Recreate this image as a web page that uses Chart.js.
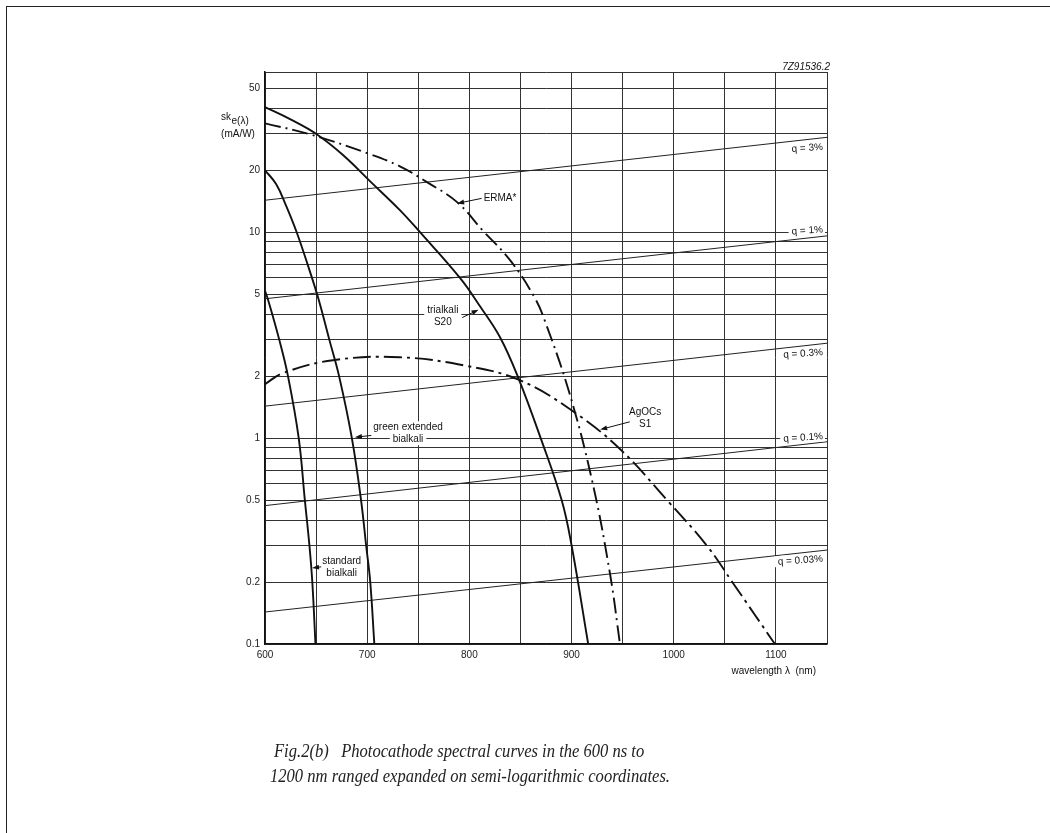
<!DOCTYPE html>
<html>
<head>
<meta charset="utf-8">
<script src="https://cdn.jsdelivr.net/npm/chart.js@4.4.0/dist/chart.umd.min.js"></script>
<style>
    html, body { margin: 0; padding: 0; background: #fff; }
    #wrap { position: relative; width: 1050px; height: 833px; overflow: hidden; }
    #frame { position: absolute; left: 6px; top: 6px; width: 1050px; height: 840px;
             border-top: 1.5px solid #222; border-left: 1.5px solid #222; }
    .caption { position: absolute; font-family: "Liberation Serif", "DejaVu Serif", serif;
               font-style: italic; font-size: 18px; color: #222; white-space: pre;
               transform: scaleX(0.92); transform-origin: left center; }
</style>
</head>
<body>
<div id="wrap">
    <canvas id="chart" width="1050" height="833"></canvas>
    <div id="frame"></div>
    <div class="caption" style="left:274px; top:741px;">Fig.2(b)   Photocathode spectral curves in the 600 ns to</div>
    <div class="caption" style="left:270px; top:766px;">1200 nm ranged expanded on semi-logarithmic coordinates.</div>
</div>
<script>
// Axis ticks
const xGridValues = [600, 650, 700, 750, 800, 850, 900, 950, 1000, 1050, 1100, 1150];
const xTickLabels = [600, 700, 800, 900, 1000, 1100];
const yGridValues = [0.1, 0.2, 0.3, 0.4, 0.5, 0.6, 0.7, 0.8, 0.9,
                     1, 2, 3, 4, 5, 6, 7, 8, 9,
                     10, 20, 30, 40, 50, 60];
const yTickLabels = [0.1, 0.2, 0.5, 1, 2, 5, 10, 20, 50];

// Spectral curves: wavelength (nm) and sensitivity (mA/W)
const stdBialkaliNm   = [600, 603, 614, 622.5, 633, 639, 643.5, 646.3, 649.4];
const stdBialkaliSens = [5.2, 4.7, 3.0, 2.0, 1.0, 0.5, 0.3, 0.2, 0.1];

const greenBialkaliNm   = [600, 611, 620.5, 631, 642, 652, 663, 672.5, 685, 694, 699, 703, 707];
const greenBialkaliSens = [20, 17.1, 13.5, 10, 6.9, 4.8, 3.0, 2.0, 1.0, 0.5, 0.3, 0.2, 0.1];

const trialkaliNm   = [600, 624.5, 650.6, 676.3, 702.7, 732, 751.7, 790.8, 810.4, 830, 847.6, 869.8, 890.3, 900.1, 916.3];
const trialkaliSens = [40.5, 35.4, 29.9, 23.7, 17.7, 12.8, 10, 6.0, 4.37, 3.09, 1.98, 1.0, 0.5, 0.3, 0.1];

const ermaNm   = [600, 644, 700, 732, 758.5, 788, 813, 840, 864, 874, 898, 920, 937.6, 947.4];
const ermaSens = [33.8, 29.9, 24.2, 20.9, 17.5, 14.0, 10.2, 7.3, 4.8, 3.7, 1.65, 0.625, 0.22, 0.1];

const agocsNm   = [600, 617.6, 666.5, 732, 797.7, 849.5, 901.4, 947.4, 993.4, 1032.5, 1057.9, 1099];
const agocsSens = [1.83, 2.07, 2.39, 2.47, 2.24, 1.91, 1.35, 0.885, 0.5, 0.3, 0.198, 0.1];

// Constant quantum efficiency lines
const qLabels   = ['q = 3%', 'q = 1%', 'q = 0.3%', 'q = 0.1%', 'q = 0.03%'];
const qNm       = [600, 1150];
const qStartSens = [14.3, 4.75, 1.43, 0.47, 0.143];
const qEndSens   = [28.9, 9.6, 2.89, 0.96, 0.286];

const FONT = '"Liberation Sans", Arial, sans-serif';

function toPoints(xs, ys) {
    return xs.map((x, i) => ({ x: x, y: ys[i] }));
}

function curve(label, xs, ys, dash) {
    return {
        label: label,
        data: toPoints(xs, ys),
        borderColor: '#111',
        borderWidth: 1.9,
        borderDash: dash || [],
        tension: 0.4,
        pointRadius: 0,
        fill: false
    };
}

const datasets = [
    curve('standard bialkali', stdBialkaliNm, stdBialkaliSens),
    curve('green extended bialkali', greenBialkaliNm, greenBialkaliSens),
    curve('trialkali S20', trialkaliNm, trialkaliSens),
    curve('ERMA*', ermaNm, ermaSens, [16, 5, 2, 5]),
    curve('AgOCs S1', agocsNm, agocsSens, [18, 5, 3, 5])
];
qLabels.forEach((lab, i) => {
    datasets.push({
        label: lab,
        data: toPoints(qNm, [qStartSens[i], qEndSens[i]]),
        borderColor: '#222',
        borderWidth: 1,
        pointRadius: 0,
        tension: 0,
        fill: false
    });
});

// Text placed in data coordinates (nm, mA/W)
const curveNotes = [
    { lines: ['ERMA*'], nm: 830, val: 14.6, from: [812, 14.6], to: [788, 13.8] },
    { lines: ['trialkali', 'S20'], nm: 774, val: 4.2, from: [793, 3.85], to: [809, 4.2] },
    { lines: ['green extended', 'bialkali'], nm: 740, val: 1.13, from: [704, 1.03], to: [688, 1.01] },
    { lines: ['AgOCs', 'S1'], nm: 972, val: 1.34, from: [957, 1.2], to: [928, 1.1] },
    { lines: ['standard', 'bialkali'], nm: 675, val: 0.252, from: [655, 0.237], to: [646, 0.234] }
];
const qNoteVals = [25.9, 10.3, 2.61, 1.02, 0.259];

function drawArrow(ctx, x1, y1, x2, y2) {
    const ang = Math.atan2(y2 - y1, x2 - x1);
    ctx.beginPath();
    ctx.moveTo(x1, y1);
    ctx.lineTo(x2 - 4 * Math.cos(ang), y2 - 4 * Math.sin(ang));
    ctx.stroke();
    ctx.beginPath();
    ctx.moveTo(x2, y2);
    ctx.lineTo(x2 - 7 * Math.cos(ang) + 2.5 * Math.sin(ang), y2 - 7 * Math.sin(ang) - 2.5 * Math.cos(ang));
    ctx.lineTo(x2 - 7 * Math.cos(ang) - 2.5 * Math.sin(ang), y2 - 7 * Math.sin(ang) + 2.5 * Math.cos(ang));
    ctx.closePath();
    ctx.fill();
}

const notesPlugin = {
    id: 'notes',
    afterDraw(chart) {
        const ctx = chart.ctx;
        const xs = chart.scales.x, ys = chart.scales.y;
        ctx.save();
        ctx.fillStyle = '#111';
        ctx.strokeStyle = '#111';
        ctx.lineWidth = 1;
        ctx.font = '10px ' + FONT;
        ctx.textBaseline = 'middle';

        // curve labels with white knock-out
        curveNotes.forEach(n => {
            const px = xs.getPixelForValue(n.nm);
            const py = ys.getPixelForValue(n.val);
            ctx.textAlign = 'center';
            n.lines.forEach((t, k) => {
                const w = ctx.measureText(t).width;
                ctx.fillStyle = '#fff';
                ctx.fillRect(px - w / 2 - 3, py + k * 12 - 6, w + 6, 12);
                ctx.fillStyle = '#111';
                ctx.fillText(t, px, py + k * 12);
            });
            drawArrow(ctx,
                xs.getPixelForValue(n.from[0]), ys.getPixelForValue(n.from[1]),
                xs.getPixelForValue(n.to[0]), ys.getPixelForValue(n.to[1]));
        });

        // q labels at the right edge
        qLabels.forEach((t, i) => {
            const px = xs.getPixelForValue(1146);
            const py = ys.getPixelForValue(qNoteVals[i]);
            ctx.save();
            ctx.translate(px, py);
            ctx.rotate(-0.07);
            ctx.textAlign = 'right';
            const w = ctx.measureText(t).width;
            ctx.fillStyle = '#fff';
            ctx.fillRect(-w - 3, -6, w + 5, 11);
            ctx.fillStyle = '#111';
            ctx.fillText(t, 0, 0);
            ctx.restore();
        });

        // y axis title: sk_e(λ) (mA/W)
        ctx.textBaseline = 'alphabetic';
        ctx.textAlign = 'left';
        ctx.fillText('sk', 221, 120);
        const skW = ctx.measureText('sk').width;
        ctx.fillText('e(\u03bb)', 221 + skW + 0.5, 124);
        ctx.textAlign = 'center';
        ctx.fillText('(mA/W)', 238, 137);

        // x axis title
        ctx.textAlign = 'right';
        ctx.fillText('wavelength \u03bb  (nm)', 816, 674);

        // drawing reference code
        ctx.font = 'italic 10px ' + FONT;
        ctx.fillText('7Z91536.2', 830, 70);
        ctx.restore();
    }
};

new Chart(document.getElementById('chart').getContext('2d'), {
    type: 'scatter',
    data: { datasets: datasets },
    options: {
        responsive: false,
        animation: false,
        devicePixelRatio: 1,
        showLine: true,
        layout: { padding: { top: 72, right: 223, bottom: 159, left: 0 } },
        plugins: {
            legend: { display: false },
            tooltip: { enabled: false }
        },
        scales: {
            x: {
                type: 'linear',
                min: 600,
                max: 1150,
                afterBuildTicks: s => { s.ticks = xGridValues.map(v => ({ value: v })); },
                afterFit: s => { s.height = 30; },
                ticks: {
                    autoSkip: false,
                    maxRotation: 0,
                    padding: 5,
                    color: '#222',
                    font: { size: 10, family: FONT },
                    callback: v => xTickLabels.includes(v) ? String(v) : ''
                },
                grid: { color: '#333', lineWidth: 1, drawTicks: false },
                border: { color: '#111', width: 1.5 }
            },
            y: {
                type: 'logarithmic',
                min: 0.1,
                max: 60,
                afterBuildTicks: s => { s.ticks = yGridValues.map(v => ({ value: v })); },
                afterFit: s => { s.width = 265; },
                ticks: {
                    autoSkip: false,
                    padding: 5,
                    color: '#222',
                    font: { size: 10, family: FONT },
                    callback: v => yTickLabels.includes(v) ? String(v) : ''
                },
                grid: { color: '#333', lineWidth: 1, drawTicks: false },
                border: { color: '#111', width: 1.5 }
            }
        }
    },
    plugins: [notesPlugin]
});
</script>
</body>
</html>
